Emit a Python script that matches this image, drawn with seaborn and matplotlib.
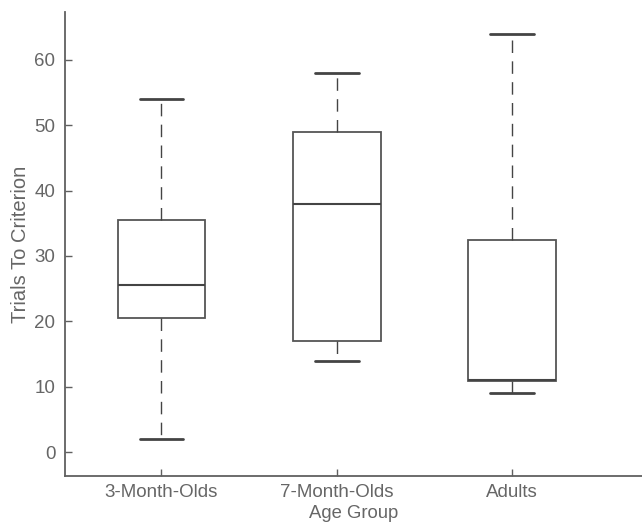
import matplotlib
matplotlib.use("Agg")
import matplotlib.pyplot as plt
import seaborn as sns
import pandas as pd

groups = ["3-Month-Olds", "7-Month-Olds", "Adults"]
# five-number summaries: min, q1, median, q3, max
g3_month = [2, 20.5, 25.5, 35.5, 54]
g7_month = [14, 17, 38, 49, 58]
g_adults = [9, 10.8, 11, 32.5, 64]

df = pd.DataFrame({
    "Age Group": [groups[0]] * 5 + [groups[1]] * 5 + [groups[2]] * 5,
    "Trials To Criterion": g3_month + g7_month + g_adults,
})

sns.set_style("white")
plt.rcParams["font.family"] = ["Liberation Sans", "DejaVu Sans"]

fig = plt.figure(figsize=(6.42, 5.22), dpi=100)
ax = fig.add_axes([65 / 642, 46 / 522, 577 / 642, 464 / 522])

edge = "#555555"
sns.boxplot(data=df, x="Age Group", y="Trials To Criterion", ax=ax,
            whis=(0, 100), width=0.5, color="white", linecolor=edge,
            linewidth=1.3, fill=True, showfliers=False,
            whiskerprops=dict(linestyle=(0, (9, 6)), color="#444444", linewidth=1.0),
            capprops=dict(color="#444444", linewidth=2.0),
            medianprops=dict(color="#444444", linewidth=1.5),
            boxprops=dict(edgecolor=edge, facecolor="white"))

ax.set_ylim(-3.65, 67.3)
ax.set_xlim(-0.55, 2.74)
ax.set_yticks([0, 10, 20, 30, 40, 50, 60])

tc = "#666666"
for s in ["top", "right"]:
    ax.spines[s].set_visible(False)
for s in ["left", "bottom"]:
    ax.spines[s].set_color("#606060")
    ax.spines[s].set_linewidth(1.3)
ax.tick_params(axis="both", direction="in", length=5, width=1.0, colors="#606060",
               labelcolor=tc, labelsize=13.5, bottom=True, left=True)
ax.tick_params(axis="y", pad=7)
ax.tick_params(axis="x", pad=6)
ax.set_xlabel("Age Group", color=tc, fontsize=13.3, labelpad=3)
ax.set_ylabel("Trials To Criterion", color=tc, fontsize=14.5, labelpad=3)

fig.savefig("out.png", dpi=100, facecolor="white")
